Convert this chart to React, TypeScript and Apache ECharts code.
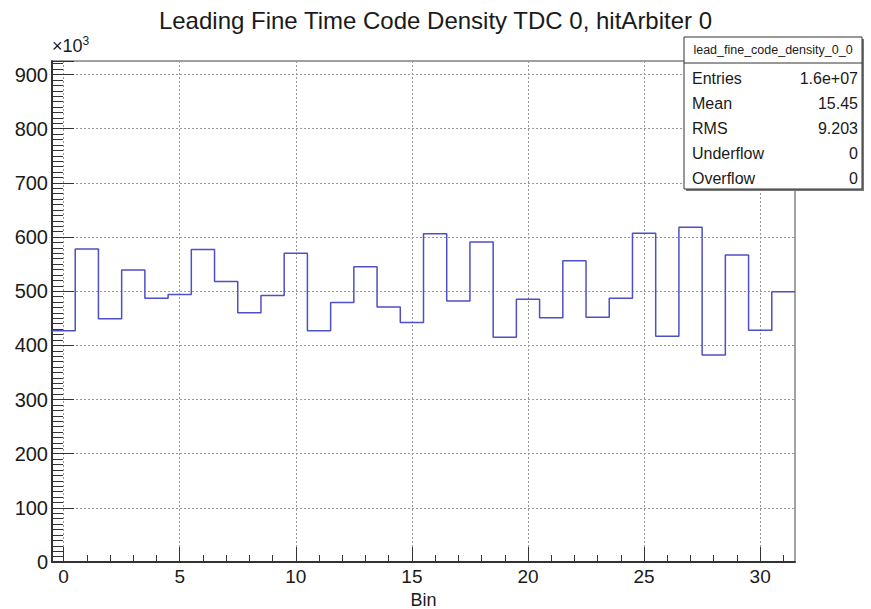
import React, { useEffect, useRef } from "react";
import * as echarts from "echarts";

// Histogram: Leading Fine Time Code Density (entries ×10³ per bin)
const binCenters = [0, 1, 2, 3, 4, 5, 6, 7, 8, 9, 10, 11, 12, 13, 14, 15, 16, 17, 18, 19, 20, 21, 22, 23, 24, 25, 26, 27, 28, 29, 30, 31];
const binValues = [427, 578, 449, 539, 487, 494, 577, 518, 460, 492, 570, 427, 479, 545, 471, 442, 606, 482, 591, 415, 485, 451, 556, 452, 487, 607, 417, 618, 382, 567, 428, 499];
const xMajorTicks = [0, 5, 10, 15, 20, 25, 30];
const xMinorTicks = [0, 1, 2, 3, 4, 5, 6, 7, 8, 9, 10, 11, 12, 13, 14, 15, 16, 17, 18, 19, 20, 21, 22, 23, 24, 25, 26, 27, 28, 29, 30, 31];
const statsName = "lead_fine_code_density_0_0";
const statsLabels = ["Entries", "Mean", "RMS", "Underflow", "Overflow"];
const statsValues = ["1.6e+07", "15.45", "9.203", "0", "0"];

const FONT = "'Liberation Sans', Arial, Helvetica, sans-serif";
const TEXT = "#1a1a1a";

export default function App() {
  const ref = useRef<HTMLDivElement>(null);

  useEffect(() => {
    if (!ref.current) return;
    const chart = echarts.init(ref.current, undefined, { renderer: "svg" });

    const half = 0.5;
    const stepData: number[][] = binCenters.map((c, i) => [c - half, binValues[i]]);
    stepData.push([binCenters[binCenters.length - 1] + half, binValues[binValues.length - 1]]);

    const boxX = 684, boxY = 37, boxW = 178, boxH = 152, headH = 26, rowH = 25;
    const statsGraphics: any[] = [
      { type: "rect", shape: { x: boxX + 2, y: boxY + 2, width: boxW, height: boxH }, style: { fill: "#777" }, z: 100 },
      { type: "rect", shape: { x: boxX, y: boxY, width: boxW, height: boxH }, style: { fill: "#fff", stroke: "#333", lineWidth: 1 }, z: 101 },
      { type: "line", shape: { x1: boxX, y1: boxY + headH, x2: boxX + boxW, y2: boxY + headH }, style: { stroke: "#333", lineWidth: 1 }, z: 102 },
      {
        type: "text", x: boxX + boxW / 2, y: boxY + headH / 2, z: 102,
        style: { text: statsName, fontSize: 12.5, fontFamily: FONT, fill: TEXT, align: "center", verticalAlign: "middle" },
      },
    ];
    statsLabels.forEach((lab, i) => {
      const cy = boxY + headH + 15 + i * rowH;
      statsGraphics.push({
        type: "text", x: boxX + 8, y: cy, z: 102,
        style: { text: lab, fontSize: 16, fontFamily: FONT, fill: TEXT, align: "left", verticalAlign: "middle" },
      });
      statsGraphics.push({
        type: "text", x: boxX + boxW - 4, y: cy, z: 102,
        style: { text: statsValues[i], fontSize: 16, fontFamily: FONT, fill: TEXT, align: "right", verticalAlign: "middle" },
      });
    });

    const option: any = {
      animation: false,
      backgroundColor: "#fff",
      title: {
        text: "Leading Fine Time Code Density TDC 0, hitArbiter 0",
        left: "center",
        top: 3,
        textStyle: { fontSize: 24, fontWeight: "normal", fontFamily: FONT, color: TEXT },
      },
      grid: {
        left: 52, right: 76, top: 61, bottom: 47,
        outerBoundsMode: "none",
        containLabel: false,
        show: true, borderColor: "#444", borderWidth: 1, backgroundColor: "transparent",
      },
      xAxis: [
        {
          type: "value", min: -0.5, max: 31.5,
          name: "Bin", nameLocation: "middle", nameGap: 27,
          nameTextStyle: { fontSize: 18, fontFamily: FONT, color: TEXT },
          axisLine: { show: true, onZero: false, lineStyle: { color: "#333", width: 2 } },
          axisTick: { show: true, inside: true, length: 15, customValues: xMajorTicks, lineStyle: { color: "#333", width: 1 } },
          axisLabel: { customValues: xMajorTicks, fontSize: 19, fontFamily: FONT, color: TEXT, margin: 5 },
          splitLine: { show: true, lineStyle: { type: [2, 2], color: "#999", width: 1 } },
        },
        {
          type: "value", min: -0.5, max: 31.5, position: "bottom", offset: 0,
          axisLine: { show: false },
          axisTick: { show: true, inside: true, length: 7, customValues: xMinorTicks, lineStyle: { color: "#333", width: 1 } },
          axisLabel: { show: false },
          splitLine: { show: false },
        },
      ],
      yAxis: {
        type: "value", min: 0, max: 925, interval: 100,
        axisLine: { show: true, onZero: false, lineStyle: { color: "#333", width: 2 } },
        axisTick: { show: true, inside: true, length: 22, lineStyle: { color: "#333", width: 1 } },
        minorTick: { show: true, splitNumber: 10, length: 11, lineStyle: { color: "#333", width: 1 } },
        axisLabel: { fontSize: 20, fontFamily: FONT, color: TEXT, margin: 4, showMaxLabel: false },
        splitLine: { show: true, lineStyle: { type: [2, 2], color: "#999", width: 1 } },
        minorSplitLine: { show: false },
      },
      series: [
        {
          type: "line",
          xAxisIndex: 0,
          step: "end",
          data: stepData,
          symbol: "none",
          lineStyle: { color: "#4f4fc6", width: 1.5 },
          z: 5,
        },
      ],
      graphic: [
        {
          type: "text", x: 52, y: 57, z: 50,
          style: {
            text: "×10{s|3}",
            fontSize: 18, fontFamily: FONT, fill: TEXT, align: "left", verticalAlign: "bottom",
            rich: { s: { fontSize: 12, fontFamily: FONT, fill: TEXT, verticalAlign: "top", padding: [0, 0, 10, 0] } },
          },
        },
        ...statsGraphics,
      ],
    };

    chart.setOption(option);
    return () => chart.dispose();
  }, []);

  return (
    <div
      ref={ref}
      style={{ position: "fixed", left: 0, top: 0, width: 871, height: 609, background: "#fff" }}
    />
  );
}
